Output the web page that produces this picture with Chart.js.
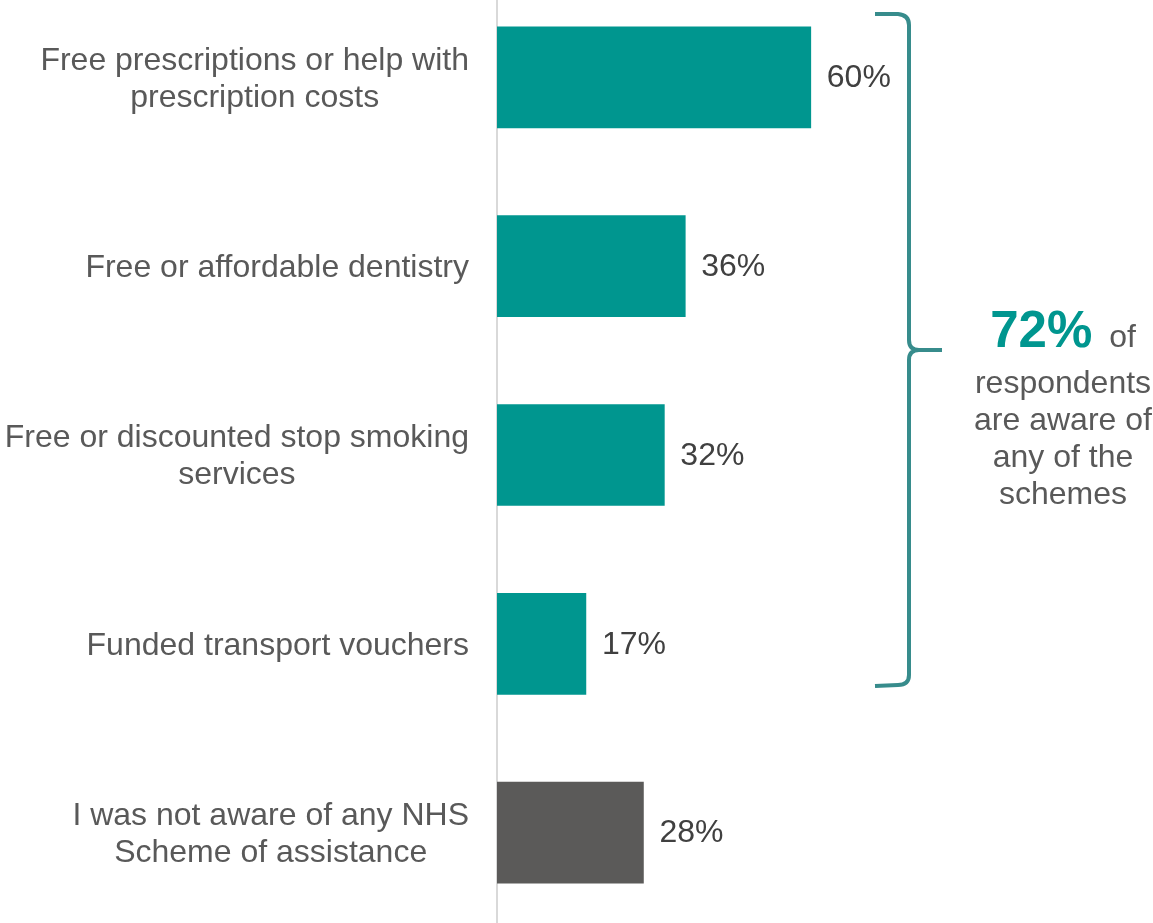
<!DOCTYPE html>
<html>
<head>
<meta charset="utf-8">
<script src="https://cdn.jsdelivr.net/npm/chart.js@4/dist/chart.umd.min.js"></script>
<style>
  html, body { margin: 0; padding: 0; background: #ffffff; overflow: hidden; }
  #wrap { position: absolute; left: 0; top: -17px; width: 1153px; height: 944px; }
</style>
</head>
<body>
<div id="wrap"><canvas id="c" width="1153" height="944"></canvas></div>
<script>
const categories = [
  ["Free prescriptions or help with", "prescription costs"],
  ["Free or affordable dentistry"],
  ["Free or discounted stop smoking", "services"],
  ["Funded transport vouchers"],
  ["I was not aware of any NHS", "Scheme of assistance"]
];
const values = [60, 36, 32, 17, 28];
const barColors = ["#00968F", "#00968F", "#00968F", "#00968F", "#5B5A59"];
const valueSuffix = "%";
const summaryValue = "72%";
const summaryLines = ["respondents", "are aware of", "any of the", "schemes"];

const FONT = "'Liberation Sans', Arial, sans-serif";
const OFF = 17; // canvas is shifted up by this many px

// category labels: each block right-aligned to the axis, its lines centred on each other
const categoryLabels = {
  id: 'categoryLabels',
  afterDraw(chart) {
    const ctx = chart.ctx;
    const yScale = chart.scales.y;
    const rightEdge = yScale.right - 28;
    const lineH = 37;
    ctx.save();
    ctx.font = "32px " + FONT;
    ctx.fillStyle = "#595959";
    ctx.textAlign = "center";
    ctx.textBaseline = "middle";
    yScale.ticks.forEach((tick, i) => {
      const lines = [].concat(chart.data.labels[i]);
      const widest = Math.max(...lines.map(l => ctx.measureText(l).width));
      const cx = rightEdge - widest / 2;
      const cy = yScale.getPixelForTick(i) + 2;
      const y0 = cy - (lines.length - 1) * lineH / 2;
      lines.forEach((l, k) => ctx.fillText(l, cx, y0 + k * lineH));
    });
    ctx.restore();
  }
};

const valueLabels = {
  id: 'valueLabels',
  afterDatasetsDraw(chart) {
    const ctx = chart.ctx;
    const meta = chart.getDatasetMeta(0);
    ctx.save();
    ctx.font = "32px " + FONT;
    ctx.fillStyle = "#404040";
    ctx.textAlign = "left";
    ctx.textBaseline = "middle";
    meta.data.forEach((bar, i) => {
      ctx.fillText(values[i] + valueSuffix, bar.x + 16, bar.y + 1);
    });
    ctx.restore();
  }
};

const bracket = {
  id: 'bracket',
  afterDraw(chart) {
    const ctx = chart.ctx;
    ctx.save();
    ctx.translate(0, OFF);
    ctx.strokeStyle = "#378C8C";
    ctx.lineWidth = 4;
    ctx.lineCap = "butt";
    ctx.beginPath();
    ctx.moveTo(875, 14);
    ctx.lineTo(898, 14);
    ctx.quadraticCurveTo(909, 15, 909, 25);
    ctx.lineTo(909, 340);
    ctx.quadraticCurveTo(909, 350, 919, 350);
    ctx.lineTo(942, 350);
    ctx.moveTo(919, 350);
    ctx.quadraticCurveTo(909, 350, 909, 360);
    ctx.lineTo(909, 675);
    ctx.quadraticCurveTo(909, 685, 898, 685);
    ctx.lineTo(875, 686);
    ctx.stroke();

    // summary text
    ctx.textBaseline = "alphabetic";
    ctx.textAlign = "left";
    ctx.font = "bold 51px " + FONT;
    const w72 = ctx.measureText(summaryValue).width;
    ctx.font = "32px " + FONT;
    const wOf = ctx.measureText(" of").width;
    const cx = 1063;
    let x0 = cx - (w72 + 8 + wOf) / 2;
    ctx.font = "bold 51px " + FONT;
    ctx.fillStyle = "#00968F";
    ctx.fillText(summaryValue, x0, 347);
    ctx.font = "32px " + FONT;
    ctx.fillStyle = "#595959";
    ctx.fillText(" of", x0 + w72 + 8, 347);
    ctx.textAlign = "center";
    summaryLines.forEach((t, i) => {
      ctx.fillText(t, cx, 393 + i * 37);
    });
    ctx.restore();
  }
};

new Chart(document.getElementById('c'), {
  type: 'bar',
  data: {
    labels: categories,
    datasets: [{
      data: values,
      backgroundColor: barColors,
      borderWidth: 0,
      barThickness: 101
    }]
  },
  options: {
    indexAxis: 'y',
    responsive: false,
    animation: false,
    devicePixelRatio: 1,
    layout: { padding: { left: 0, right: 133, top: 0, bottom: 0 } },
    plugins: { legend: { display: false }, tooltip: { enabled: false } },
    scales: {
      x: {
        display: false,
        min: 0,
        max: 100
      },
      y: {
        afterFit(scale) {
          scale.width = 497;
          scale.paddingTop = 0;
          scale.paddingBottom = 0;
        },
        grid: { display: false, drawTicks: false },
        border: { display: true, color: "#D9D9D9", width: 2 },
        ticks: { display: false }
      }
    }
  },
  plugins: [valueLabels, categoryLabels, bracket]
});
</script>
</body>
</html>
